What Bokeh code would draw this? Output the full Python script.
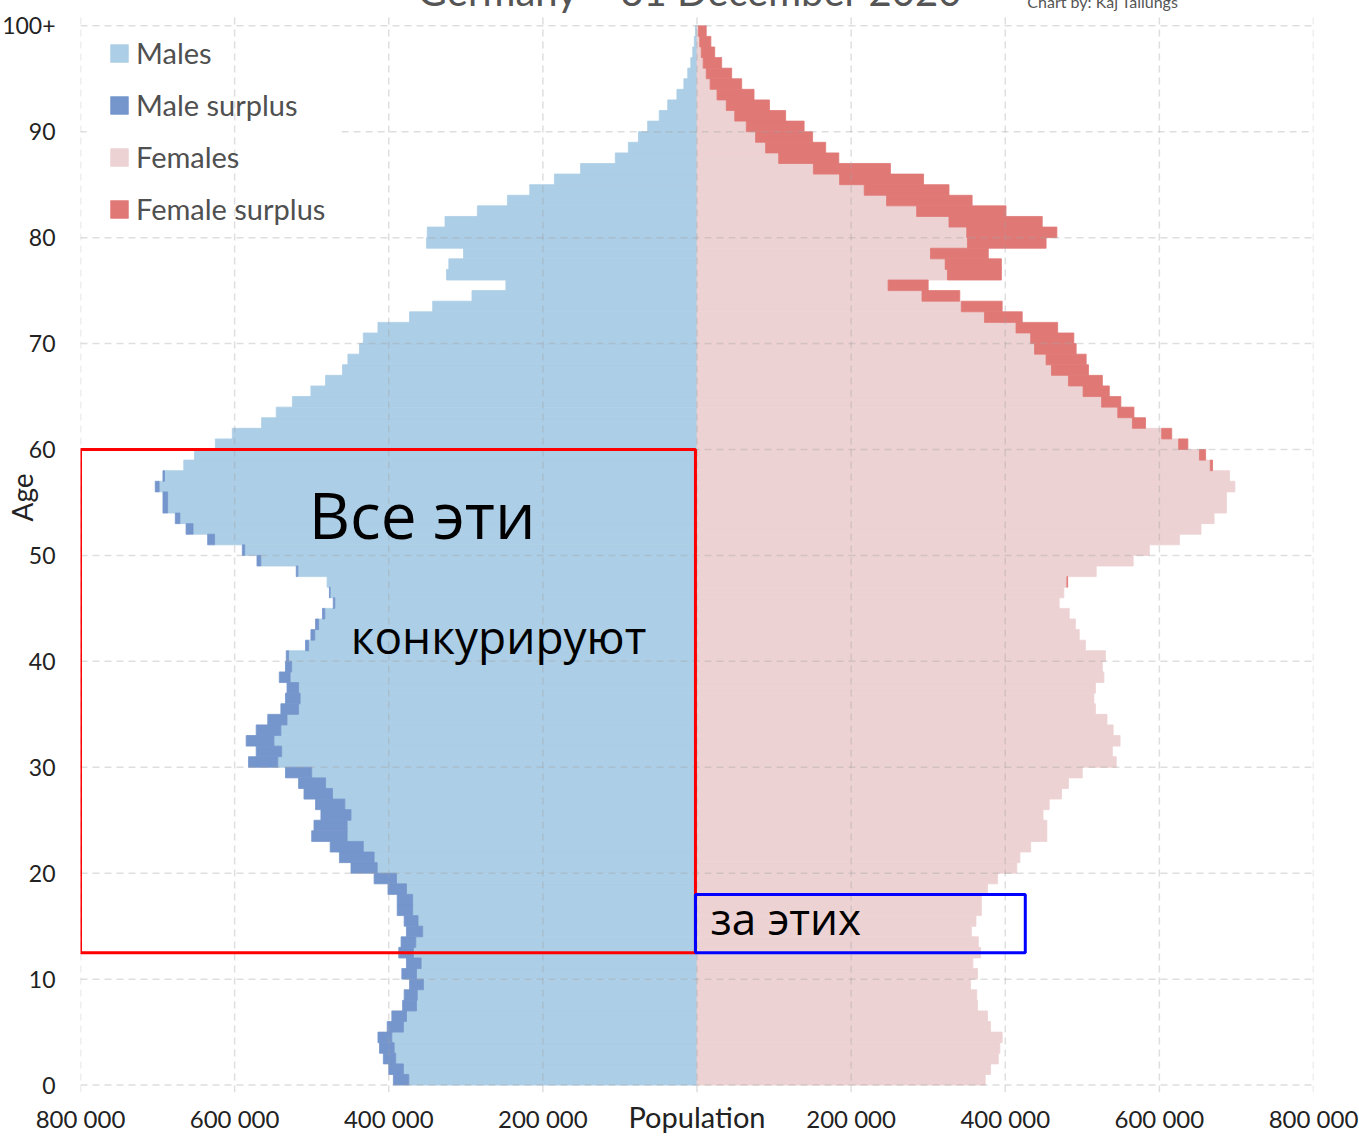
from bokeh.plotting import figure
from bokeh.models import (Range1d, FixedTicker, Label, BoxAnnotation, Legend,
                          LegendItem, ColumnDataSource)
from bokeh.embed import file_html
from bokeh.resources import INLINE

# ---------------- data (thousands of persons, single years of age) ----------
ages = list(range(100))
males_k = [394, 400, 407, 412, 414, 402, 396, 382, 380, 373,
           383, 377, 387, 384, 377, 380, 389, 389, 401, 419,
           449, 464, 476, 500, 497, 488, 495, 510, 517, 534,
           582, 572, 585, 572, 557, 540, 534, 532, 542, 534,
           533, 508, 501, 495, 486, 472, 477, 480, 520, 571,
           590, 635, 663, 677, 693, 693, 703, 693, 666, 652,
           625, 603, 565, 546, 525, 501, 482, 460, 453, 438,
           433, 414, 373, 343, 292, 248, 325, 322, 303, 351,
           350, 327, 285, 246, 217, 185, 151, 106, 89, 76,
           64, 49, 38, 26, 17, 12, 8, 5.5, 3.5, 2]
females_k = [374, 381, 391, 393, 396, 381, 377, 364, 363, 355,
             364, 358, 368, 365, 356, 362, 369, 369, 377, 390,
             415, 419, 433, 454, 454, 449, 457, 473, 482, 500,
             544, 539, 549, 540, 532, 517, 515, 517, 528, 526,
             530, 504, 496, 491, 483, 470, 476, 481, 518, 566,
             587, 626, 654, 671, 687, 687, 698, 691, 669, 660,
             637, 616, 582, 567, 550, 535, 526, 508, 505, 492,
             489, 468, 422, 396, 341, 300, 395, 395, 378, 453,
             467, 448, 401, 357, 327, 294, 251, 184, 167, 150,
             139, 115, 94, 74, 58, 45, 32, 23, 18, 12]

title_text = "Germany – 31 December 2020"
credit_text = "Chart by: Kaj Tallungs"
x_title = "Population"
y_title = "Age"
x_ticks = [-800000, -600000, -400000, -200000, 0, 200000, 400000, 600000, 800000]
x_tick_labels = ["800 000", "600 000", "400 000", "200 000", "",
                 "200 000", "400 000", "600 000", "800 000"]
y_ticks = [0, 10, 20, 30, 40, 50, 60, 70, 80, 90, 100]
y_tick_labels = ["0", "10", "20", "30", "40", "50", "60", "70", "80", "90", "100+"]
legend_labels = ["Males", "Male surplus", "Females", "Female surplus"]
note_big_1 = "Все эти"
note_big_2 = "конкурируют"
note_small = "за этих"

# annotation boxes (data units)
red_box = dict(left=-800000, right=-2000, bottom=12.5, top=60.0)
blue_box = dict(left=-2000, right=426000, bottom=12.5, top=18.0)

C_MALE = "#accee6"
C_MALE_S = "#7596cc"
C_FEM = "#edd2d3"
C_FEM_S = "#e07976"
FONT = "Lato"
GRID_COLOR = "#a0a0a0"

# ---------------- geometry ----------------
TOP_EXTRA = 98                 # canvas extends above the page top
W, H = 1359, 1136
PX_PER_YEAR = 10.593
Y_BOTTOM = -0.7
FRAME_H = (1092 + TOP_EXTRA)
Y_TOP = Y_BOTTOM + FRAME_H / PX_PER_YEAR
GRID_TOP = 100.95


def px_x(px):
    return (px - 696.5) * 1297.0


def px_y(py):
    return (1084.3 - py) / PX_PER_YEAR


# ---------------- derived bar extents ----------------
m = [v * 1000 for v in males_k]
f = [v * 1000 for v in females_k]
bot = ages
top = [a + 1 for a in ages]
core = [min(a, b) for a, b in zip(m, f)]

src_m = ColumnDataSource(dict(left=[-c for c in core], right=[0] * len(core), bottom=bot, top=top))
ms_idx = [i for i in range(len(ages)) if m[i] > f[i]]
src_ms = ColumnDataSource(dict(left=[-m[i] for i in ms_idx], right=[-f[i] for i in ms_idx],
                               bottom=[bot[i] for i in ms_idx], top=[top[i] for i in ms_idx]))
src_f = ColumnDataSource(dict(left=[0] * len(core), right=core, bottom=bot, top=top))
fs_idx = [i for i in range(len(ages)) if f[i] > m[i]]
src_fs = ColumnDataSource(dict(left=[m[i] for i in fs_idx], right=[f[i] for i in fs_idx],
                               bottom=[bot[i] for i in fs_idx], top=[top[i] for i in fs_idx]))

p = figure(width=W, height=H + TOP_EXTRA,
           x_range=Range1d(-800000, 800000), y_range=Range1d(Y_BOTTOM, Y_TOP),
           output_backend="svg", toolbar_location=None,
           min_border_left=80, min_border_right=46, min_border_top=0, min_border_bottom=44,
           outline_line_color=None, background_fill_color="white",
           margin=(-TOP_EXTRA, 0, 0, 0))

r_m = p.quad(source=src_m, left="left", right="right", bottom="bottom", top="top",
             fill_color=C_MALE, line_color=C_MALE, line_width=0.8)
r_ms = p.quad(source=src_ms, left="left", right="right", bottom="bottom", top="top",
              fill_color=C_MALE_S, line_color=C_MALE_S, line_width=0.8)
r_f = p.quad(source=src_f, left="left", right="right", bottom="bottom", top="top",
             fill_color=C_FEM, line_color=C_FEM, line_width=0.8)
r_fs = p.quad(source=src_fs, left="left", right="right", bottom="bottom", top="top",
              fill_color=C_FEM_S, line_color=C_FEM_S, line_width=0.8)

# dashed grid lines drawn over the bars
p.segment(x0=x_ticks, x1=x_ticks, y0=[Y_BOTTOM] * len(x_ticks), y1=[GRID_TOP] * len(x_ticks),
          line_color=GRID_COLOR, line_alpha=0.35, line_dash="7 5", line_width=1.5)
hx0 = [px_x(341) if t == 90 else -800000 for t in y_ticks] + [-800000]
hx1 = [800000] * len(y_ticks) + [px_x(86)]
hy = list(y_ticks) + [90]
p.segment(x0=hx0, x1=hx1, y0=hy, y1=hy,
          line_color=GRID_COLOR, line_alpha=0.35, line_dash="7 5", line_width=1.5)

# ---------------- axes ----------------
p.xaxis.ticker = FixedTicker(ticks=x_ticks)
p.xaxis.major_label_overrides = {t: l for t, l in zip(x_ticks, x_tick_labels)}
p.yaxis.ticker = FixedTicker(ticks=y_ticks)
p.yaxis.major_label_overrides = {t: l for t, l in zip(y_ticks, y_tick_labels)}
p.yaxis.bounds = (0, 110.9)
for ax in (p.xaxis, p.yaxis):
    ax.axis_line_color = None
    ax.major_tick_line_color = None
    ax.minor_tick_line_color = None
    ax.major_tick_out = 0
    ax.major_tick_in = 0
    ax.major_label_text_font = FONT
    ax.major_label_text_color = "#222222"
    ax.axis_label_text_font = FONT
    ax.axis_label_text_font_style = "normal"
    ax.axis_label_text_color = "#222222"
p.xaxis.major_label_text_font_size = "24px"
p.yaxis.major_label_text_font_size = "23px"
p.xaxis.major_label_standoff = 11
p.yaxis.major_label_standoff = 25
p.xaxis.axis_label = x_title
p.xaxis.axis_label_text_font_size = "29px"
p.xaxis.axis_label_standoff = -37
p.yaxis.axis_label = y_title
p.yaxis.axis_label_text_font_size = "28px"
p.yaxis.axis_label_standoff = -40

p.xgrid.visible = False
p.ygrid.visible = False

# ---------------- legend ----------------
legend = Legend(items=[LegendItem(label=legend_labels[0], renderers=[r_m]),
                       LegendItem(label=legend_labels[1], renderers=[r_ms]),
                       LegendItem(label=legend_labels[2], renderers=[r_f]),
                       LegendItem(label=legend_labels[3], renderers=[r_fs])],
                location=(28, 866), orientation="vertical",
                label_text_font=FONT, label_text_font_size="29px", label_text_color="#505050",
                glyph_width=22, glyph_height=22, label_height=22, label_standoff=6,
                spacing=17, padding=0, margin=0,
                border_line_color=None, background_fill_alpha=0)
p.add_layout(legend)

# ---------------- texts inside the canvas ----------------
SHIFT = 0.41   # label anchor correction (fraction of font size)


def add_text(txt, x_px, baseline_px, size, font, color, align="left"):
    p.add_layout(Label(x=px_x(x_px), y=px_y(baseline_px - SHIFT * size), text=txt,
                       text_align=align, text_baseline="alphabetic",
                       text_font=font, text_font_size=f"{size}px", text_color=color))


add_text(title_text, 690, 7, 40, FONT, "#555555", align="center")
add_text(credit_text, 1027, 7, 16, FONT, "#555555")

# hand-drawn annotation
p.add_layout(BoxAnnotation(fill_alpha=0, line_color="#ff0000", line_alpha=1, line_width=3, **red_box))
p.add_layout(BoxAnnotation(fill_alpha=0, line_color="#0000ff", line_alpha=1, line_width=3, **blue_box))
add_text(note_big_1, 308, 540, 64, "Open Sans", "black")
add_text(note_big_2, 350, 654, 46, "Open Sans", "black")
add_text(note_small, 710, 935, 44, "Open Sans", "black")

open("out.html", "w").write(file_html(p, INLINE))
